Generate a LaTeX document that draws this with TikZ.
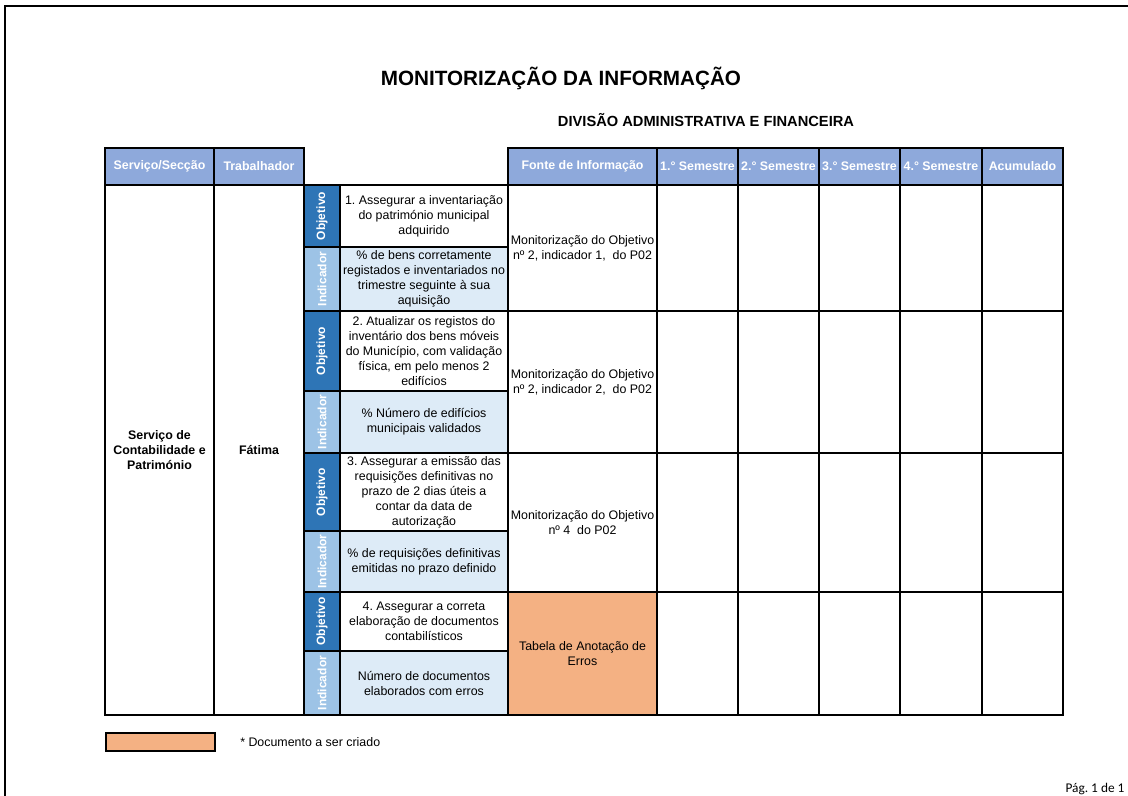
\documentclass[tikz,border=0pt]{standalone}
\usepackage{fontspec}
\setmainfont{Liberation Sans}
\newfontfamily\pagefont{Carlito}
\definecolor{hdrblue}{HTML}{8EA9DB}
\definecolor{objblue}{HTML}{2E75B6}
\definecolor{indblue}{HTML}{9DC3E6}
\definecolor{indfill}{HTML}{DDEBF7}
\definecolor{newdoc}{HTML}{F4B183}
\frenchspacing
\begin{document}
\begin{tikzpicture}[x=0.75pt,y=-0.75pt,
    heavy/.style={line width=2.2pt},
    rule/.style={line width=0.8pt},
    hdr/.style={text=white,inner sep=0pt,font=\bfseries\fontsize{9.3}{11.25}\selectfont},
    cell/.style={align=center,inner sep=0pt,font=\fontsize{9.3}{11.25}\selectfont},
    lbl/.style={rotate=90,text=white,inner sep=0pt,font=\bfseries\fontsize{9}{11}\selectfont}]
  \useasboundingbox (0,0) rectangle (1128,796);
  \draw[line width=1.1pt] (5,796) -- (5,6) -- (1128,6);
  \node[font=\bfseries\fontsize{15.5}{18}\selectfont] (title) at (561,78) {MONITORIZAÇÃO DA INFORMAÇÃO};
  \node[font=\bfseries\fontsize{11}{13}\selectfont] (division) at (706,120) {DIVISÃO ADMINISTRATIVA E FINANCEIRA};
  % fills
  \fill[hdrblue] (105,148) rectangle (304,185);
  \fill[hdrblue] (508,148) rectangle (1063,185);
  \foreach \t/\m/\b in {185/247/311,311/391/453,453/531/592,592/651/715} {
    \fill[objblue] (304,\t) rectangle (340,\m);
    \fill[indblue] (304,\m) rectangle (340,\b);
    \fill[indfill] (340,\m) rectangle (508,\b);
  }
  \fill[newdoc] (508,592) rectangle (657,715);
  % rules
  \draw[heavy] (105,148) rectangle (304,185);
  \draw[heavy] (508,148) rectangle (1063,185);
  \draw[heavy] (105,185) rectangle (1063,715);
  \foreach \x in {214,304,508,657,738,819,900,982} {
    \draw[heavy] (\x,148) -- (\x,715);
  }
  \draw[rule] (340,185) -- (340,715);
  \foreach \y in {311,453,592} {
    \draw[heavy] (304,\y) -- (1063,\y);
  }
  \foreach \y in {247,391,531,651} {
    \draw[rule] (304,\y) -- (508,\y);
  }
  % header
  \node[hdr] (hsrv) at (159.5,166.5) {Serviço/Secção};
  \node[hdr] (htrab) at (259,166.5) {Trabalhador};
  \node[hdr] (hfonte) at (582.5,166.5) {Fonte de Informação};
  \node[hdr] (hsem1) at (697.5,166.5) {1.° Semestre};
  \node[hdr] (hsem2) at (778.5,166.5) {2.° Semestre};
  \node[hdr] (hsem3) at (859.5,166.5) {3.° Semestre};
  \node[hdr] (hsem4) at (941,166.5) {4.° Semestre};
  \node[hdr] (hacum) at (1022.5,166.5) {Acumulado};
  % body
  \node[cell,font=\bfseries\fontsize{9.3}{11.25}\selectfont] (srv) at (159.5,450) {Serviço de\\Contabilidade e\\Património};
  \node[cell,font=\bfseries\fontsize{9.3}{11.25}\selectfont] (trab) at (259,450) {Fátima};
  \node[lbl] (lobj1) at (322,216) {Objetivo};
  \node[lbl] (lind1) at (322,279) {Indicador};
  \node[lbl] (lobj2) at (322,351) {Objetivo};
  \node[lbl] (lind2) at (322,422) {Indicador};
  \node[lbl] (lobj3) at (322,492) {Objetivo};
  \node[lbl] (lind3) at (322,561.5) {Indicador};
  \node[lbl] (lobj4) at (322,621.5) {Objetivo};
  \node[lbl] (lind4) at (322,683) {Indicador};
  \node[cell] (obj1) at (424,216) {1. Assegurar a inventariação\\do património municipal\\adquirido};
  \node[cell] (ind1) at (424,279) {\% de bens corretamente\\registados e inventariados no\\trimestre seguinte à sua\\aquisição};
  \node[cell] (obj2) at (424,351) {2. Atualizar os registos do\\inventário dos bens móveis\\do Município, com validação\\física, em pelo menos 2\\edifícios};
  \node[cell] (ind2) at (424,422) {\% Número de edifícios\\municipais validados};
  \node[cell] (obj3) at (424,492) {3. Assegurar a emissão das\\requisições definitivas no\\prazo de 2 dias úteis a\\contar da data de\\autorização};
  \node[cell] (ind3) at (424,561.5) {\% de requisições definitivas\\emitidas no prazo definido};
  \node[cell] (obj4) at (424,621.5) {4. Assegurar a correta\\elaboração de documentos\\contabilísticos};
  \node[cell] (ind4) at (424,683) {Número de documentos\\elaborados com erros};
  \node[cell] (fonte1) at (582.5,248) {Monitorização do Objetivo\\nº 2, indicador 1,~ do P02};
  \node[cell] (fonte2) at (582.5,382) {Monitorização do Objetivo\\nº 2, indicador 2,~ do P02};
  \node[cell] (fonte3) at (582.5,522.5) {Monitorização do Objetivo\\nº 4~ do P02};
  \node[cell] (fonte4) at (582.5,653.5) {Tabela de Anotação de\\Erros};
  % legend
  \draw[fill=newdoc,rule] (106,733) rectangle (215,751);
  \node[cell,anchor=west] (legend) at (240,742) {* Documento a ser criado};
  \node[font=\pagefont\fontsize{10}{12}\selectfont,inner sep=0pt] (page) at (1095,789) {Pág. 1 de 1};
\end{tikzpicture}
\end{document}
